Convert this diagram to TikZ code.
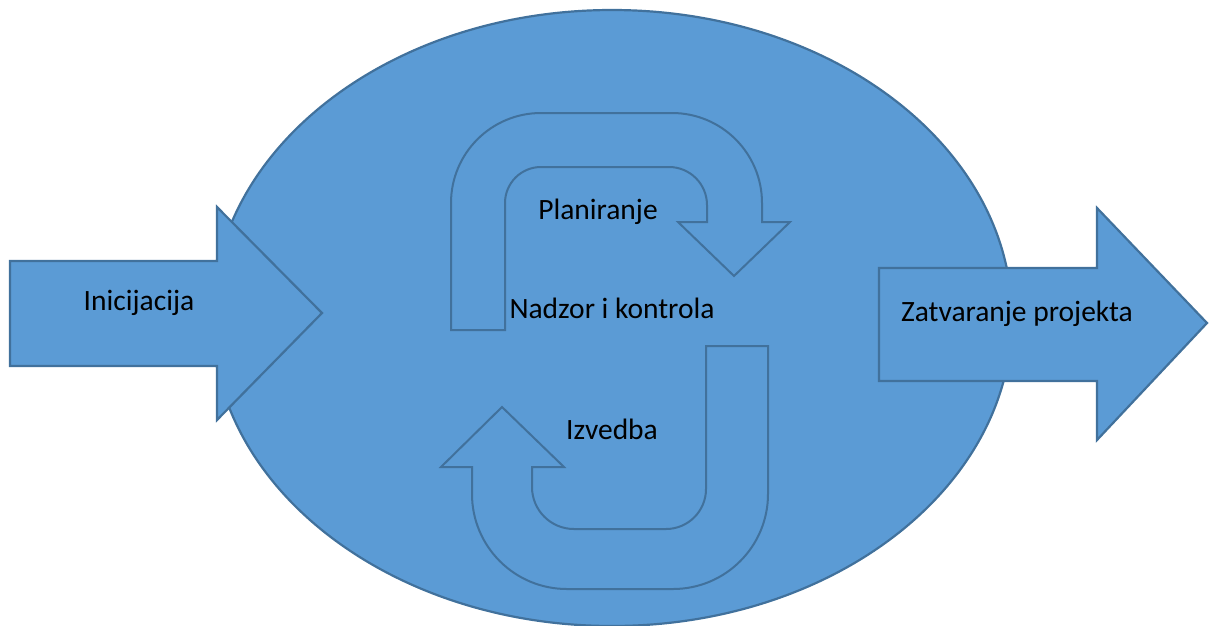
\documentclass[tikz,border=0pt]{standalone}
\usepackage{fontspec}
\setmainfont{Carlito}
\definecolor{fillblue}{HTML}{5B9BD5}
\definecolor{lineblue}{HTML}{41719C}
\begin{document}
\begin{tikzpicture}[x=1pt,y=-1pt,
  shapebox/.style={fill=fillblue,draw=lineblue,line width=2.2pt,line join=miter},
  turnbox/.style={fill=fillblue,draw=lineblue,line width=2pt,line join=miter},
  lbl/.style={font=\fontsize{29.5}{34}\selectfont,text=black,inner sep=0pt}]
\useasboundingbox (0,0) rectangle (1209,625);
% ellipse
\draw[shapebox] (612,318) ellipse[x radius=400, y radius=308];
% left arrow
\draw[shapebox] (10,261) -- (217,261) -- (217,207) -- (322,313) -- (217,420) -- (217,366) -- (10,366) -- cycle;
% right arrow
\draw[shapebox] (879,268) -- (1097,268) -- (1097,208) -- (1207,323) -- (1097,440) -- (1097,381) -- (879,381) -- cycle;
% top U-turn
\draw[turnbox] (451,330) -- (451,203) arc[start angle=180, end angle=270, radius=90]
  -- (672,113) arc[start angle=270, end angle=360, radius=90]
  -- (762,222) -- (790,222) -- (734,276) -- (678,222) -- (707,222)
  -- (707,205) arc[start angle=0, end angle=-90, radius=38]
  -- (541,167) arc[start angle=270, end angle=180, radius=36]
  -- (505,330) -- cycle;
% bottom U-turn
\draw[turnbox] (706,346) -- (768,346) -- (768,494) arc[start angle=0, end angle=90, radius=95]
  -- (567,589) arc[start angle=90, end angle=180, radius=95]
  -- (472,467) -- (441,467) -- (502,407) -- (564,467) -- (532,467)
  -- (532,487) arc[start angle=180, end angle=90, radius=42]
  -- (666,529) arc[start angle=90, end angle=0, radius=40]
  -- cycle;
% labels
\node[lbl] (ini) at (139,303) {Inicijacija};
\node[lbl] (zat) at (1017,314) {Zatvaranje projekta};
\node[lbl] (pla) at (598,212) {Planiranje};
\node[lbl] (nad) at (612,308) {Nadzor i kontrola};
\node[lbl] (izv) at (612,429) {Izvedba};
\end{tikzpicture}
\end{document}
